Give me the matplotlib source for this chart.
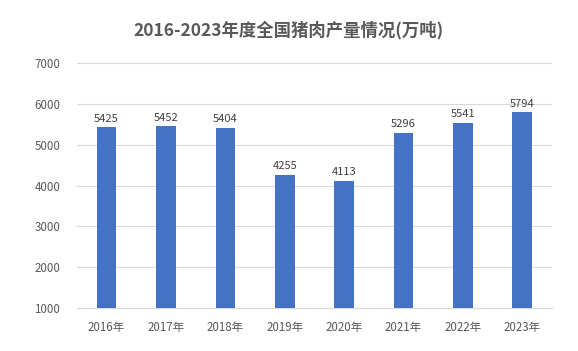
import matplotlib
matplotlib.use("Agg")
import matplotlib.pyplot as plt

plt.rcParams['font.family'] = ['Noto Sans CJK SC', 'DejaVu Sans']

categories = ["2016年", "2017年", "2018年", "2019年", "2020年", "2021年", "2022年", "2023年"]
values = [5425, 5452, 5404, 4255, 4113, 5296, 5541, 5794]
yticks = [1000, 2000, 3000, 4000, 5000, 6000, 7000]

fig = plt.figure(figsize=(5.78, 3.51), dpi=100)
ax = fig.add_axes([0.133, 0.1225, 0.822, 0.698])

x = list(range(len(categories)))
ax.bar(x, [v - 1000 for v in values], bottom=1000, width=0.33, color="#4472C4", zorder=3)
for xi, v in zip(x, values):
    ax.text(xi, v + 90, str(v), ha="center", va="bottom", fontsize=8, color="#404040")

ax.set_xlim(-0.5, len(categories) - 0.5)
ax.set_ylim(1000, 7000)
ax.set_yticks(yticks)
ax.set_yticklabels([str(t) for t in yticks], fontsize=8.3, color="#595959")
ax.set_xticks(x)
ax.set_xticklabels(categories, fontsize=8.3, color="#595959")
ax.grid(axis="y", color="#D9D9D9", linewidth=0.8, zorder=0)
for s in ["top", "right", "left"]:
    ax.spines[s].set_visible(False)
ax.spines["bottom"].set_color("#D9D9D9")
ax.tick_params(axis="y", length=0, pad=12)
ax.tick_params(axis="x", length=0, pad=9)

fig.text(0.5, 0.915, "2016-2023年度全国猪肉产量情况(万吨)", ha="center", va="center",
         fontsize=12.5, fontweight="bold", color="#595959")

fig.savefig("out.png", dpi=100)
